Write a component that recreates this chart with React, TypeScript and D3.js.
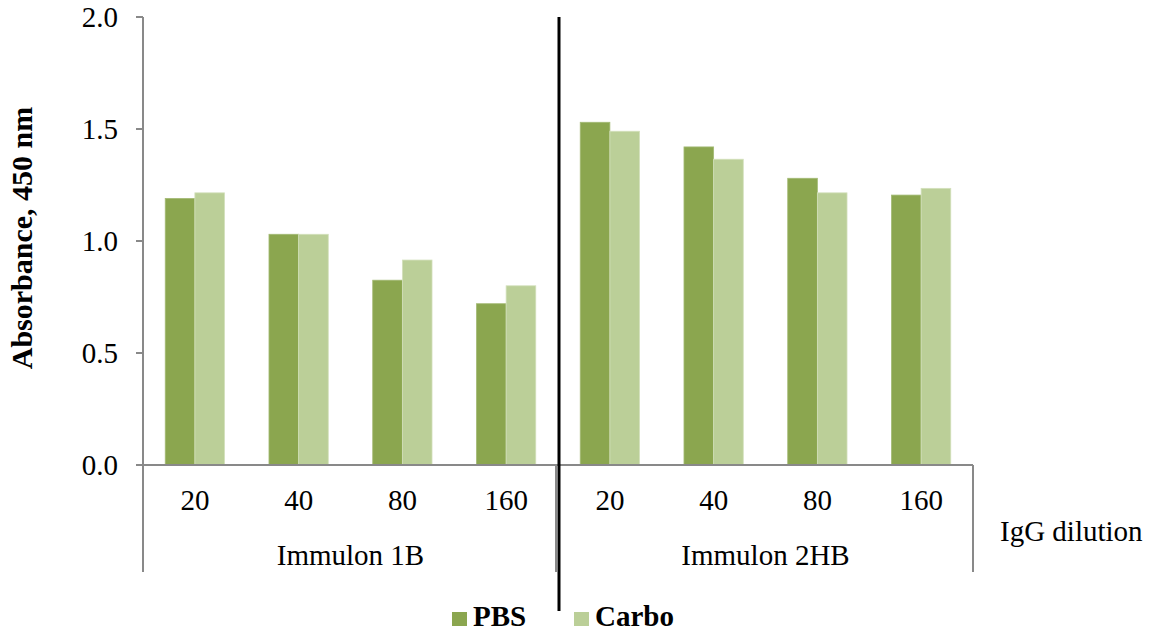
import React from "react";
import * as d3 from "d3";

// dilution labels repeat under each plate type
const dilutions = ["20", "40", "80", "160"];
const plates = ["Immulon 1B", "Immulon 2HB"];
const seriesNames = ["PBS", "Carbo"];
const pbsValues = [1.19, 1.03, 0.825, 0.72, 1.53, 1.42, 1.28, 1.205];
const carboValues = [1.215, 1.03, 0.915, 0.8, 1.49, 1.365, 1.215, 1.235];
const yTicks = [0, 0.5, 1.0, 1.5, 2.0];

const colors: { [k: string]: string } = { PBS: "#8BA64F", Carbo: "#BBCF98" };
const strokes: { [k: string]: string } = { PBS: "#A3BA74", Carbo: "#D3E0BC" };

const W = 1151;
const H = 634;
const axisGray = "#898989";
const font = "'Liberation Serif', 'Times New Roman', serif";

const App: React.FC = () => {
  const left = 143;
  const right = 973;
  const top = 17;
  const bottom = 465;
  const catBottom = 572;

  const keys = plates.flatMap((p) => dilutions.map((d) => `${p}|${d}`));
  const x0 = d3.scaleBand().domain(keys).range([left, right]).padding(0);
  // gap width 150% like the original spreadsheet chart
  const x1 = d3
    .scaleBand()
    .domain(seriesNames)
    .range([0, x0.bandwidth()])
    .paddingInner(0)
    .paddingOuter(0.75);
  const y = d3.scaleLinear().domain([0, 2]).range([bottom, top]);

  const rows = keys.map((k, i) => ({ key: k, PBS: pbsValues[i], Carbo: carboValues[i] }));
  const mid = (left + right) / 2;
  const plateCenter = (i: number) => left + ((right - left) / plates.length) * (i + 0.5);

  return (
    <svg
      width={W}
      height={H}
      style={{ position: "absolute", left: 0, top: 0, background: "#fff" }}
      fontFamily={font}
    >
      {/* bars */}
      {rows.map((r) =>
        seriesNames.map((s) => {
          const v = (r as any)[s] as number;
          return (
            <rect
              key={r.key + s}
              x={x0(r.key)! + x1(s)!}
              y={y(v)}
              width={x1.bandwidth()}
              height={bottom - y(v)}
              fill={colors[s]}
              stroke={strokes[s]}
              strokeWidth={0.8}
            />
          );
        })
      )}

      {/* y axis */}
      <line x1={left} x2={left} y1={top} y2={catBottom} stroke={axisGray} strokeWidth={2} />
      {yTicks.map((t) => (
        <g key={t}>
          <line x1={left - 7} x2={left} y1={y(t)} y2={y(t)} stroke={axisGray} strokeWidth={2} />
          <text
            x={118}
            y={y(t)}
            dy="0.36em"
            textAnchor="end"
            fontSize={29}
            fill="#000"
          >
            {t.toFixed(1)}
          </text>
        </g>
      ))}
      <text
        transform={`translate(32, 238) rotate(-90)`}
        textAnchor="middle"
        fontSize={30}
        fontWeight="bold"
      >
        Absorbance, 450 nm
      </text>

      {/* category axis */}
      <line x1={left} x2={right} y1={bottom} y2={bottom} stroke={axisGray} strokeWidth={2} />
      <line x1={right} x2={right} y1={bottom} y2={catBottom} stroke={axisGray} strokeWidth={2} />
      <line x1={mid - 2} x2={mid - 2} y1={bottom} y2={catBottom} stroke={axisGray} strokeWidth={2} />
      {keys.map((k) => (
        <text
          key={k}
          x={x0(k)! + x0.bandwidth() / 2}
          y={510}
          textAnchor="middle"
          fontSize={29}
        >
          {k.split("|")[1]}
        </text>
      ))}
      {plates.map((p, i) => (
        <text key={p} x={plateCenter(i)} y={565} textAnchor="middle" fontSize={29}>
          {p}
        </text>
      ))}
      <text x={1000} y={541} fontSize={29}>
        IgG dilution
      </text>

      {/* divider between plate types */}
      <line x1={mid + 1} x2={mid + 1} y1={top} y2={611} stroke="#000" strokeWidth={3} />

      {/* legend */}
      {seriesNames.map((s, i) => {
        const lx = i === 0 ? 452 : 574;
        return (
          <g key={s}>
            <rect x={lx} y={612} width={15} height={14} fill={colors[s]} />
            <text x={lx + 21} y={626} fontSize={29} fontWeight="bold">
              {s}
            </text>
          </g>
        );
      })}
    </svg>
  );
};

export default App;
